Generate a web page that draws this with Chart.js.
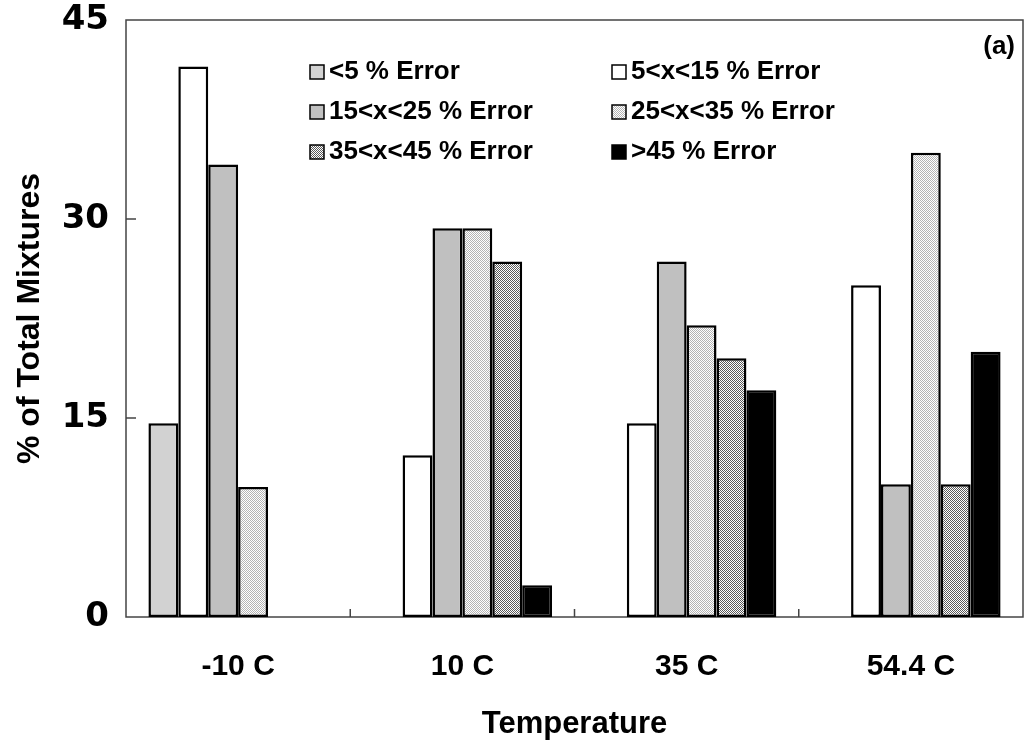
<!DOCTYPE html>
<html>
<head>
<meta charset="utf-8">
<script src="https://cdn.jsdelivr.net/npm/chart.js@4"></script>
<style>
  html, body { margin: 0; padding: 0; background: #fff; }
  #wrap { width: 1029px; height: 750px; }
</style>
</head>
<body>
<div id="wrap"><canvas id="errorChart" width="1029" height="750"></canvas></div>
<script>
// % of mixtures falling in each prediction-error band, per test temperature
const temperatures = ['-10 C', '10 C', '35 C', '54.4 C'];
const bandLabels = ['<5 % Error', '5<x<15 % Error', '15<x<25 % Error', '25<x<35 % Error', '35<x<45 % Error', '>45 % Error'];
const under5 = [14.6, 0, 0, 0];
const from5to15 = [41.5, 12.2, 14.6, 25.0];
const from15to25 = [34.1, 29.3, 26.8, 10.0];
const from25to35 = [9.8, 29.3, 22.0, 35.0];
const from35to45 = [0, 26.8, 19.5, 10.0];
const over45 = [0, 2.4, 17.1, 20.0];
const yTicks = [0, 15, 30, 45];

const FONT = '"Liberation Sans", Arial, sans-serif';
const canvas = document.getElementById('errorChart');
const ctx = canvas.getContext('2d');

// 2x2 checkerboard fill, like the old Excel dotted patterns
function checker(dark) {
  const c = document.createElement('canvas');
  c.width = 2; c.height = 2;
  const g = c.getContext('2d');
  g.fillStyle = '#fff';
  g.fillRect(0, 0, 2, 2);
  g.fillStyle = dark;
  g.fillRect(0, 0, 1, 1);
  g.fillRect(1, 1, 1, 1);
  return ctx.createPattern(c, 'repeat');
}

const fills = ['#d2d2d2', '#ffffff', '#c0c0c0', checker('#b4b4b4'), checker('#5a5a5a'), '#000000'];
const series = [under5, from5to15, from15to25, from25to35, from35to45, over45];

// two-column legend inside the plot + panel tag
const legendGrid = {
  id: 'legendGrid',
  afterDraw(chart) {
    const c = chart.ctx;
    c.save();
    c.font = 'bold 26px ' + FONT;
    c.textBaseline = 'middle';
    chart.data.datasets.forEach((ds, i) => {
      const x = 310 + (i % 2) * 302;
      const y = 72 + Math.floor(i / 2) * 40;
      c.fillStyle = ds.backgroundColor;
      c.fillRect(x, y - 7, 14, 14);
      c.strokeStyle = '#000';
      c.lineWidth = 1.5;
      c.strokeRect(x, y - 7, 14, 14);
      c.fillStyle = '#000';
      c.fillText(ds.label, x + 19, y);
    });
    c.textAlign = 'right';
    c.fillText('(a)', chart.chartArea.right - 8, 47);
    c.restore();
  }
};

// box round the plot and short inward tick marks
const frameTicks = {
  id: 'frameTicks',
  beforeDatasetsDraw(chart) {
    const { ctx: c, chartArea: a, scales: { x, y } } = chart;
    c.save();
    c.strokeStyle = '#444';
    c.lineWidth = 1.5;
    c.strokeRect(a.left, a.top, a.right - a.left, a.bottom - a.top);
    c.beginPath();
    yTicks.slice(1, -1).forEach(v => {
      const py = y.getPixelForValue(v);
      c.moveTo(a.left, py);
      c.lineTo(a.left + 10, py);
    });
    for (let i = 0; i < temperatures.length - 1; i++) {
      const px = (x.getPixelForTick(i) + x.getPixelForTick(i + 1)) / 2;
      c.moveTo(px, a.bottom);
      c.lineTo(px, a.bottom - 8);
    }
    c.stroke();
    c.restore();
  }
};

// fixed axis sizes, no extra room reserved for overhanging tick labels
function fixSize(prop, size) {
  return scale => {
    scale[prop] = size;
    scale.paddingTop = scale.paddingBottom = scale.paddingLeft = scale.paddingRight = 0;
  };
}

new Chart(ctx, {
  type: 'bar',
  data: {
    labels: temperatures,
    datasets: series.map((vals, i) => ({
      label: bandLabels[i],
      data: vals,
      backgroundColor: fills[i],
      borderColor: '#000',
      borderWidth: 2.5,
      borderSkipped: false,
      categoryPercentage: 0.8,
      barPercentage: 1.0,
    })),
  },
  options: {
    responsive: false,
    animation: false,
    layout: { padding: { top: 20, right: 6, left: 0, bottom: 0 } },
    plugins: {
      legend: { display: false },
      tooltip: { enabled: false },
    },
    scales: {
      x: {
        grid: { display: false },
        border: { display: false },
        ticks: { color: '#000', padding: 24, font: { family: FONT, size: 30, weight: 'bold' } },
        title: {
          display: true,
          text: 'Temperature',
          color: '#000',
          font: { family: FONT, size: 31, weight: 'bold' },
          padding: { top: 0, bottom: 7 },
        },
        afterFit: fixSize('height', 133),
      },
      y: {
        min: 0,
        max: 45,
        grid: { display: false },
        border: { display: false },
        afterBuildTicks(scale) { scale.ticks = yTicks.map(v => ({ value: v })); },
        ticks: { color: '#000', padding: 9, font: { family: '"DejaVu Sans", sans-serif', size: 34, weight: 'bold' } },
        title: {
          display: true,
          text: '% of Total Mixtures',
          color: '#000',
          font: { family: FONT, size: 32, weight: 'bold' },
          padding: { top: 11, bottom: 0 },
        },
        afterFit: fixSize('width', 126),
      },
    },
  },
  plugins: [frameTicks, legendGrid],
});
</script>
</body>
</html>
